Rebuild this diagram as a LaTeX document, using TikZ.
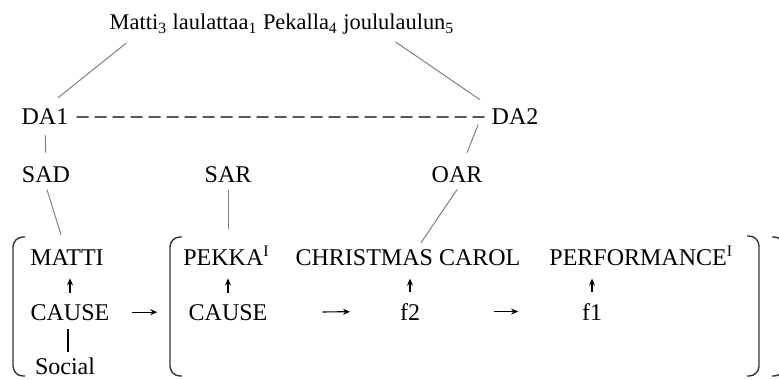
\documentclass[tikz,border=0pt]{standalone}
\usepackage{fontspec}
\setmainfont{Liberation Serif}
\usetikzlibrary{arrows.meta, calc}

\begin{document}
\begin{tikzpicture}[
  x=0.5pt, y=-0.5pt,
  font=\fontsize{12}{14}\selectfont,
  lbl/.style={anchor=base, inner sep=0pt},
  tline/.style={gray, line width=0.5pt},
  uarr/.style={-{Stealth[length=3.5pt, width=3pt]}, line width=0.6pt,
    shorten <=5.5pt, shorten >=6.5pt},
  harr/.style={-{Stealth[length=3.5pt, width=3pt]}, line width=0.6pt},
  brk/.style={black!80, line width=0.7pt, rounded corners=5pt},
]
  \useasboundingbox (0,0) rectangle (779,379);

  % Sentence and discourse anchors
  \node[lbl, font=\fontsize{11.2}{13}\selectfont] (sent) at (282,30)
    {Matti\textsubscript{3} laulattaa\textsubscript{1} Pekalla\textsubscript{4} joululaulun\textsubscript{5}};
  \node[lbl] (da1) at (45,125) {DA1};
  \node[lbl] (da2) at (515,125) {DA2};

  % Argument roles
  \node[lbl] (sad) at (46,182) {SAD};
  \node[lbl] (sar) at (228,182) {SAR};
  \node[lbl] (oar) at (457,182) {OAR};

  % Upper row
  \node[lbl] (matti) at (67,265) {MATTI};
  \node[lbl, anchor=base west] (pekka) at (183,265) {PEKKA\textsuperscript{I}};
  \node[lbl] (carol) at (408,265) {CHRISTMAS CAROL};
  \node[lbl, anchor=base west] (perf) at (549,265) {PERFORMANCE\textsuperscript{I}};

  % Lower row
  \node[lbl] (cause1) at (70,320) {CAUSE};
  \node[lbl] (cause2) at (228,320) {CAUSE};
  \node[lbl] (f2) at (410,320) {f2};
  \node[lbl] (f1) at (592,320) {f1};
  \node[lbl] (social) at (65,374) {Social};

  % Links between levels
  \draw[tline] ([shift={(17,13)}]sent.base west) -- ([shift={(13,-11)}]da1.north);
  \draw[tline] ([shift={(-59,12)}]sent.base east) -- ([shift={(-35,-9)}]da2.north);
  \draw[dashed, dash pattern=on 6pt off 3pt, line width=0.6pt,
    shorten <=4pt, shorten >=2pt] (da1) -- (da2);
  \draw[tline, shorten <=5pt, shorten >=6.5pt] (da1.south) -- (sad.north);
  \draw[tline] ([shift={(-13,-1)}]da2.south west) -- ([shift={(10,-13)}]oar.north);
  \draw[tline] ([shift={(1,7)}]sad.south) -- ([shift={(-6,-14)}]matti.north);
  \draw[tline, shorten <=3.5pt, shorten >=8pt] (sar.south) -- (sar.south |- pekka.north);
  \draw[tline] ([shift={(0,7)}]oar.south) -- ([shift={(13,-6)}]carol.north);

  % Arrows
  \draw[uarr] (cause1.north) -- (cause1.north |- matti.south);
  \draw[uarr] (cause2.north) -- (cause2.north |- pekka.south);
  \draw[uarr] (f2.north) -- (f2.north |- carol.south);
  \draw[uarr] (f1.north) -- (f1.north |- perf.south);
  \draw[harr, shorten <=11pt, shorten >=15.5pt] (cause1.east) -- (cause2.west);
  \draw[harr, shorten <=27.5pt, shorten >=24.75pt] (cause2.east) -- (f2.west);
  \draw[harr, shorten <=36.75pt, shorten >=31.75pt] (f2.east) -- (f1.west);
  \draw[line width=0.9pt, shorten <=4pt, shorten >=2.3pt]
    ([xshift=-1pt]cause1.south) -- ([xshift=-1pt]cause1.south |- social.north);

  % Brackets
  \draw[brk] (25,237) -- (13,237) -- (13,376) -- (25,376);
  \draw[brk] (182,237) -- (170,237) -- (170,376) -- (182,376);
  \draw[brk] (747,236) -- (759,236) -- (759,376) -- (747,376);
  \draw[brk] (772,237) -- (784,237) -- (784,376) -- (772,376);
\end{tikzpicture}
\end{document}
